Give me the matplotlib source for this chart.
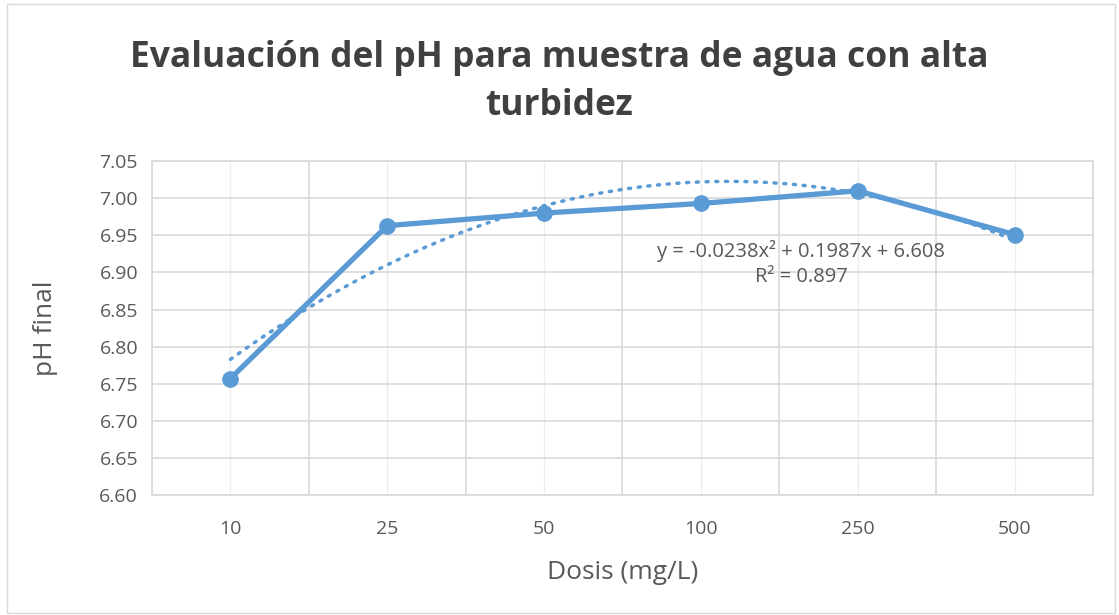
import numpy as np
import matplotlib.pyplot as plt
from matplotlib.patches import Rectangle

dosis = ['10', '25', '50', '100', '250', '500']
ph_final = [6.757, 6.963, 6.980, 6.993, 7.010, 6.951]
# coeficientes de la linea de tendencia (polinomica, orden 2)
coef = [-0.0238, 0.1987, 6.608]

azul = '#5B9BD5'
gris = '#595959'
plt.rcParams['font.family'] = ['Open Sans', 'DejaVu Sans']

fig = plt.figure(figsize=(11.19, 6.15), dpi=100)
fig.patches.append(Rectangle((0.006, 0.003), 0.99, 0.99, transform=fig.transFigure,
                             fill=False, edgecolor='#D9D9D9', linewidth=1))
ax = fig.add_axes([0.1358, 0.195, 0.8410, 0.543])

x = np.arange(1, len(dosis) + 1)
xs = np.linspace(1, len(dosis), 200)
ax.plot(xs, np.polyval(coef, xs), color=azul, linestyle=(0, (0.6, 2.2)),
        linewidth=2.5, dash_capstyle='round', zorder=3)
ax.plot(x, ph_final, color=azul, linewidth=3.8, marker='o', markersize=11, zorder=4)

ax.set_xlim(0.5, len(dosis) + 0.5)
ax.set_ylim(6.60, 7.05)
ax.set_yticks(np.arange(6.60, 7.0501, 0.05))
ax.set_yticklabels([f'{v:.2f}' for v in np.arange(6.60, 7.0501, 0.05)])
ax.set_xticks(x)
ax.set_xticklabels(dosis)
ax.set_xticks(np.arange(0.5, len(dosis) + 1, 1), minor=True)

ax.grid(axis='y', color='#D9D9D9', linewidth=1.2)
ax.grid(axis='x', which='minor', color='#D9D9D9', linewidth=1.2)
ax.grid(axis='x', which='major', color='#EDEDED', linewidth=1)
ax.set_axisbelow(True)
for s in ax.spines.values():
    s.set_color('#D9D9D9')
    s.set_linewidth(1.2)
ax.tick_params(which='both', length=0, colors=gris, labelsize=14)
ax.tick_params(axis='x', pad=18)
ax.tick_params(axis='y', pad=10)

ax.set_xlabel('Dosis (mg/L)', fontsize=19, color=gris, labelpad=16)
ax.set_ylabel('pH final', fontsize=19, color=gris, labelpad=30)
fig.suptitle('Evaluación del pH para muestra de agua con alta\nturbidez', fontsize=25.5,
             fontweight='bold', color='#404040', y=0.935, linespacing=1.45)

ax.text(4.64, 6.912, 'y = -0.0238x² + 0.1987x + 6.608\nR² = 0.897', ha='center',
        va='center', fontsize=14.5, color=gris, linespacing=1.3)

fig.savefig('out.png', dpi=100)
